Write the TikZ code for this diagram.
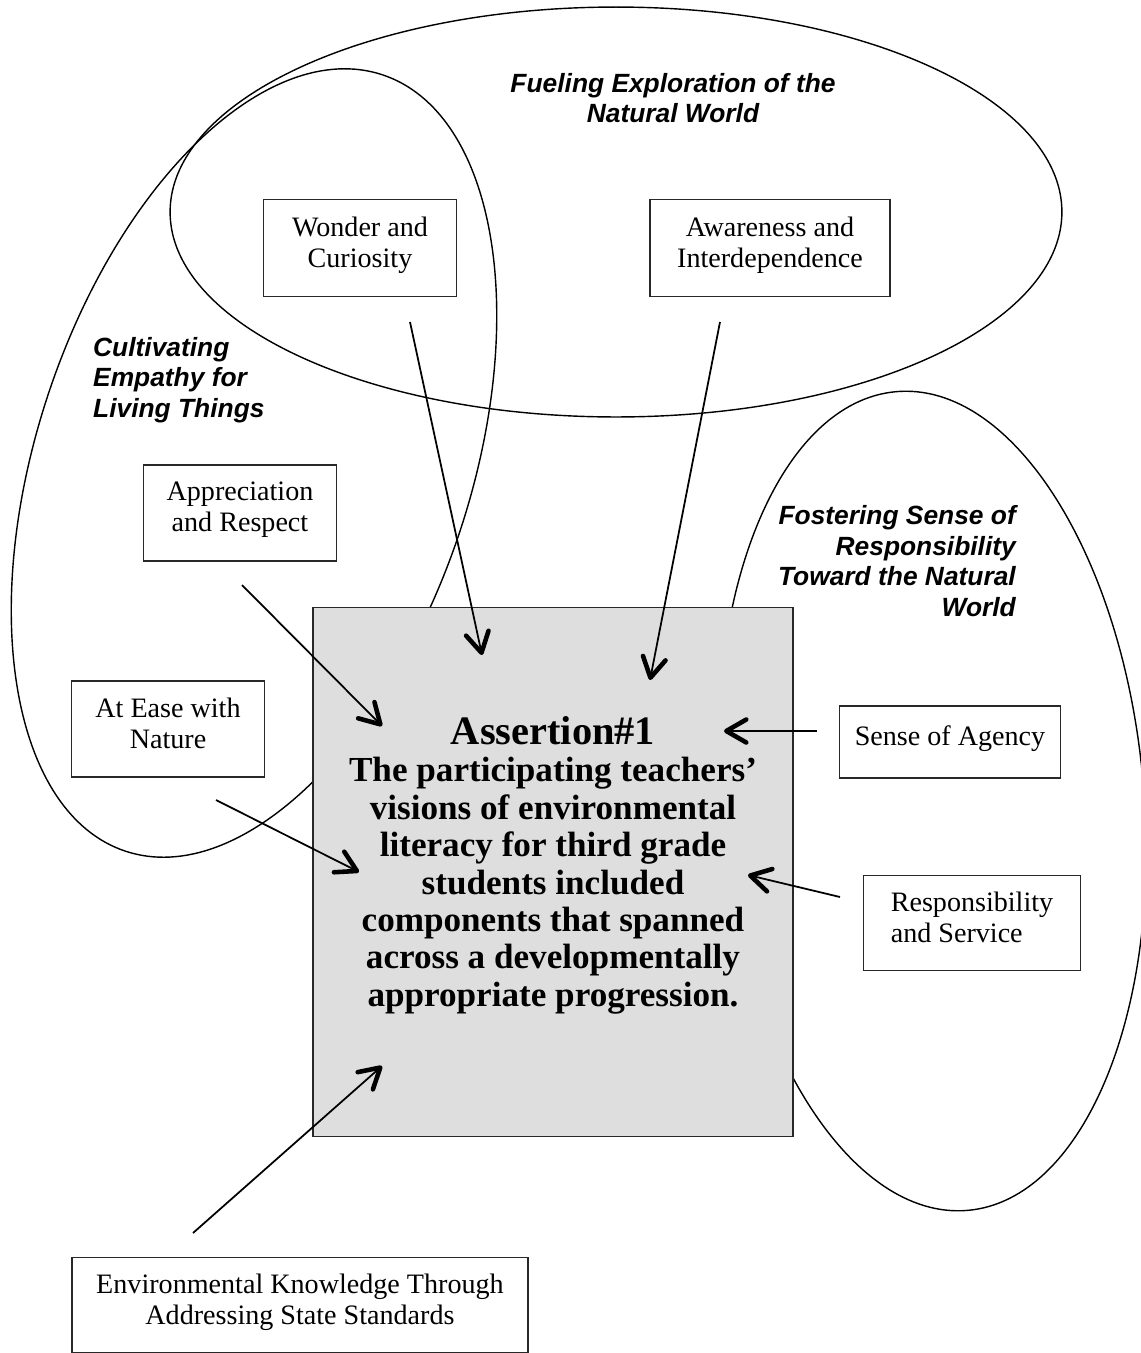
\documentclass[tikz,border=0pt]{standalone}
\usepackage{fontspec}
\setmainfont{Liberation Serif}
\newfontfamily\themefont{Liberation Sans}
\usepackage{tikz}
\usetikzlibrary{shapes.geometric, arrows.meta}
\definecolor{boxgray}{RGB}{222, 222, 222}
\definecolor{edgegray}{RGB}{40, 40, 40}

\begin{document}
\begin{tikzpicture}[x=0.02cm, y=-0.02cm,
    region/.style={draw, ellipse, line width=0.8pt, inner sep=0pt},
    compbox/.style={draw=edgegray, line width=1pt, fill=white, align=center,
        font=\fontsize{16}{17.6}\selectfont, text depth=7pt},
    themetitle/.style={font=\themefont\fontsize{15}{17.3}\selectfont\bfseries\itshape},
    feeds/.style={line width=1pt, -{Straight Barb[length=4mm, width=4.6mm, line width=2.6pt 0, round]}}]
    \useasboundingbox (0,0) rectangle (1141,1353);

    % Theme regions
    \node[region, minimum width=17.84cm, minimum height=8.2cm] (fueling) at (616,212) {};
    \node[region, minimum width=16.36cm, minimum height=8.68cm, rotate=71.7] (empathy) at (254,463) {};
    \node[region, minimum width=16.44cm, minimum height=8.48cm, rotate=95] (fostering) at (932,801) {};

    % Assertion
    \node[draw=edgegray, line width=1pt, fill=boxgray, minimum width=9.6cm, minimum height=10.58cm] (assert) at (553,872) {};
    \node[anchor=north, inner sep=0pt, align=center, font=\fontsize{20}{21.3}\selectfont\bfseries] (claim) at (553,716)
        {{\fontsize{23}{25}\selectfont Assertion\#1}\\The participating teachers'\\visions of environmental\\literacy for third grade\\students included\\components that spanned\\across a developmentally\\appropriate progression.};

    % Components
    \node[compbox, minimum width=3.86cm, minimum height=1.94cm] (wonder) at (360,248) {Wonder and\\Curiosity};
    \node[compbox, minimum width=4.8cm, minimum height=1.94cm] (aware) at (770,248) {Awareness and\\Interdependence};
    \node[compbox, minimum width=3.86cm, minimum height=1.92cm] (respect) at (240,513) {Appreciation\\and Respect};
    \node[compbox, minimum width=3.86cm, minimum height=1.92cm] (ease) at (168,729) {At Ease with\\Nature};
    \node[compbox, minimum width=4.42cm, minimum height=1.44cm] (agency) at (950,742) {Sense of Agency};
    \node[compbox, align=left, minimum width=4.34cm, minimum height=1.9cm] (service) at (972,923) {Responsibility\\and Service};
    \node[compbox, minimum width=9.12cm, minimum height=1.9cm] (knowledge) at (300,1305) {Environmental Knowledge Through\\Addressing State Standards};

    % Theme titles
    \node[themetitle, align=center] (fueling-title) at (673,98) {Fueling Exploration of the\\Natural World};
    \node[themetitle, align=left, anchor=west] (empathy-title) at (87,380) {Cultivating\\Empathy for\\Living Things};
    \node[themetitle, align=right, anchor=east] (fostering-title) at (1022,561) {Fostering Sense of\\Responsibility\\Toward the Natural\\World};

    % Arrows into the assertion
    \coordinate (wonder-out) at (410,322);    \coordinate (wonder-in) at (482,655);
    \coordinate (aware-out) at (720,322);     \coordinate (aware-in) at (650,680);
    \coordinate (respect-out) at (242,585);   \coordinate (respect-in) at (382,726);
    \coordinate (ease-out) at (216,800);      \coordinate (ease-in) at (359,872);
    \coordinate (agency-out) at (817,731);    \coordinate (agency-in) at (724,731);
    \coordinate (service-out) at (840,897);   \coordinate (service-in) at (748,875);
    \coordinate (knowledge-out) at (193,1233); \coordinate (knowledge-in) at (382,1066);
    \foreach \src in {wonder, aware, respect, ease, agency, service, knowledge}
        \draw[feeds] (\src-out) -- (\src-in);

\end{tikzpicture}
\end{document}
